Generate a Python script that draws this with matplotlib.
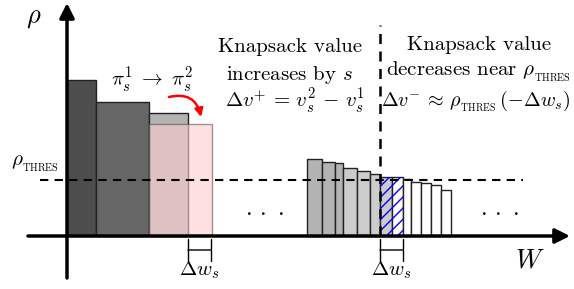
import matplotlib.pyplot as plt

plt.rcParams["font.family"] = "cmr10"
plt.rcParams["mathtext.fontset"] = "cm"
plt.rcParams["axes.unicode_minus"] = False

# left group: items already packed (width = weight, height = density rho)
left_widths = [29, 53, 39]
left_heights = [156, 134, 123]
left_colors = ["#4d4d4d", "#666666", "#b3b3b3"]
# new policy for the third item (pi_s^2)
new_width = 63
new_height = 112

# right group: items around the threshold
right_start = 240
right_widths = [15, 13, 8, 14, 13, 10, 12, 11, 8, 10, 10, 10, 10]
right_heights = [77, 74, 73, 68, 65, 62, 59, 59, 57, 54, 53, 51, 46]
right_colors = ["#b3b3b3"] * 3 + ["#cccccc"] * 4 + ["white"] * 6

rho_thres = 56
cut_index = 6  # first item hatched (the one crossing the capacity line)

RHO_T = r"\rho_{_\mathrm{THRES}}"

fig = plt.figure(figsize=(5.74, 2.89), dpi=100)
ax = fig.add_axes([0, 0, 1, 1])
ax.set_xlim(-67, 507)
ax.set_ylim(-53, 236)
ax.axis("off")

# left bars
x = 0
left_x = []
for w, h, c in zip(left_widths, left_heights, left_colors):
    ax.bar(x, h, width=w, align="edge", color=c, edgecolor="#222222", lw=1, zorder=2)
    left_x.append(x)
    x += w
ax.bar(left_x[2], new_height, width=new_width, align="edge", color=(1, 0.8, 0.8),
       alpha=0.6, edgecolor="#555555", lw=1, zorder=3)

# right bars
x = right_start
right_x = []
for w, h, c in zip(right_widths, right_heights, right_colors):
    ax.bar(x, h, width=w, align="edge", color=c, edgecolor="#222222", lw=1, zorder=2)
    right_x.append(x)
    x += w
hatch_w = right_widths[cut_index] + right_widths[cut_index + 1]
ax.bar(right_x[cut_index], right_heights[cut_index], width=hatch_w, align="edge",
       color="none", edgecolor="blue", hatch="///", lw=0, zorder=3)

# threshold line and capacity line
ax.plot([-27, 456], [rho_thres, rho_thres], ls=(0, (4, 3)), color="black", lw=1.5, zorder=4)
ax.plot([right_x[cut_index], right_x[cut_index]], [0, 211], ls=(0, (4, 3)),
        color="black", lw=1.8, zorder=4)

# axes with arrows
ax.annotate("", xy=(0, 233), xytext=(0, -42),
            arrowprops=dict(arrowstyle="-|>", color="black", lw=2.5, mutation_scale=22,
                            shrinkA=0, shrinkB=0), zorder=5)
ax.annotate("", xy=(503, 0), xytext=(-39, 0),
            arrowprops=dict(arrowstyle="-|>", color="black", lw=2.5, mutation_scale=22,
                            shrinkA=0, shrinkB=0), zorder=5)

# delta w brackets
for x0 in [left_x[2] + left_widths[2], right_x[cut_index]]:
    ax.annotate("", xy=(x0 + 23, -14), xytext=(x0, -14),
                arrowprops=dict(arrowstyle="|-|", color="black", lw=1,
                                mutation_scale=8, shrinkA=0, shrinkB=0))
    ax.text(x0 + 11.5, -34, r"$\Delta w_s$", fontsize=15, ha="center", va="center")

# red curved arrow
ax.annotate("", xy=(134, 119), xytext=(102, 139),
            arrowprops=dict(arrowstyle="-|>", color="red", lw=1.8, mutation_scale=12,
                            connectionstyle="arc3,rad=-0.5", shrinkA=0, shrinkB=0))

# labels
ax.text(-33, 218, r"$\rho$", fontsize=19, ha="center", va="center")
ax.text(463, -25, r"$W$", fontsize=19, ha="center", va="center")
ax.text(-32, 72, "$" + RHO_T + "$", fontsize=15, ha="center", va="center")
ax.text(85, 156, r"$\pi_s^1 \;\rightarrow\; \pi_s^2$", fontsize=15, ha="center", va="center")
ax.text(198, 24, r"$\cdot\,\cdot\,\cdot$", fontsize=17, ha="center", va="center")
ax.text(433, 24, r"$\cdot\,\cdot\,\cdot$", fontsize=17, ha="center", va="center")

ax.text(223, 189, "Knapsack value", fontsize=15, ha="center", va="center")
ax.text(223, 161, r"increases by $s$", fontsize=15, ha="center", va="center")
ax.text(228, 135, r"$\Delta v^{+} \,=\, v_s^2 \,-\, v_s^1$", fontsize=15,
        ha="center", va="center")

ax.text(412, 191, "Knapsack value", fontsize=15, ha="center", va="center")
ax.text(411, 164, "decreases near $" + RHO_T + "$", fontsize=15, ha="center", va="center")
ax.text(409, 135, r"$\Delta v^{-} \,\approx\, " + RHO_T + r"\,(-\Delta w_s)$", fontsize=14.5,
        ha="center", va="center")

fig.savefig("out.png", dpi=100)
